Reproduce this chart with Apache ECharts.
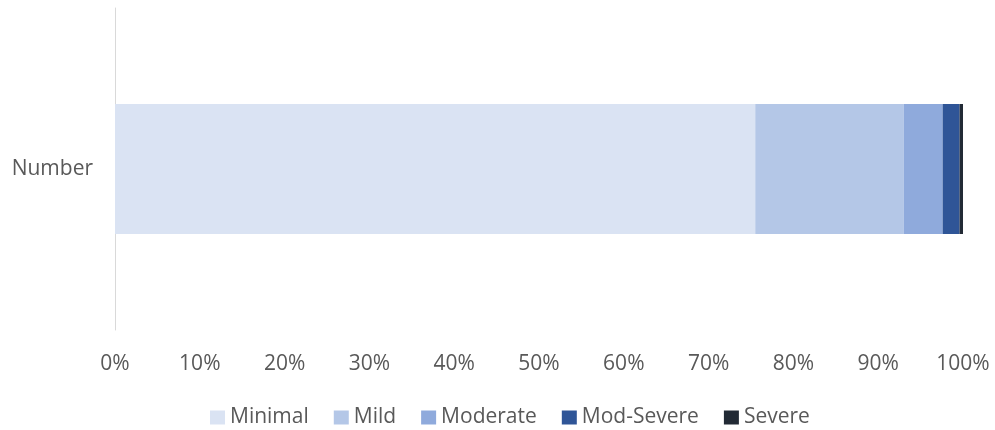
<!DOCTYPE html>
<html><head><meta charset="utf-8">
<script src="https://cdn.jsdelivr.net/npm/echarts@6/dist/echarts.min.js"></script>
<style>html,body{margin:0;padding:0;background:#fff}#c{width:995px;height:430px}</style>
</head><body><div id="c"></div>
<script>
var categories = ['Number'];
var seriesNames = ['Minimal', 'Mild', 'Moderate', 'Mod-Severe', 'Severe'];
var minimalVals = [75.5];
var mildVals = [17.5];
var moderateVals = [4.6];
var modSevereVals = [2.0];
var severeVals = [0.4];
var colors = ['#DAE3F3', '#B4C7E7', '#8FAADC', '#2F5597', '#222A35'];
var valuesList = [minimalVals, mildVals, moderateVals, modSevereVals, severeVals];

var chart = echarts.init(document.getElementById('c'));
var font = 'Open Sans';
chart.setOption({
  animation: false,
  color: colors,
  grid: {left: 115, right: 32, top: 8, bottom: 100},
  legend: {
    top: 402, left: 205, itemWidth: 15, itemHeight: 14, itemGap: 25,
    icon: 'rect',
    textStyle: {color: '#595959', fontSize: 21, fontFamily: font},
    data: seriesNames
  },
  xAxis: {
    type: 'value', min: 0, max: 100, interval: 10,
    axisLine: {show: false}, axisTick: {show: false}, splitLine: {show: false},
    axisLabel: {formatter: '{value}%', color: '#595959', fontSize: 21, fontFamily: font, margin: 24}
  },
  yAxis: {
    type: 'category', data: categories,
    axisLine: {show: true, lineStyle: {color: '#D9D9D9', width: 1}},
    axisTick: {show: false},
    axisLabel: {color: '#595959', fontSize: 21, fontFamily: font, margin: 22}
  },
  series: seriesNames.map(function(n, i){
    return {name: n, type: 'bar', stack: 'total', barWidth: 130, data: valuesList[i]};
  })
});
</script></body></html>
